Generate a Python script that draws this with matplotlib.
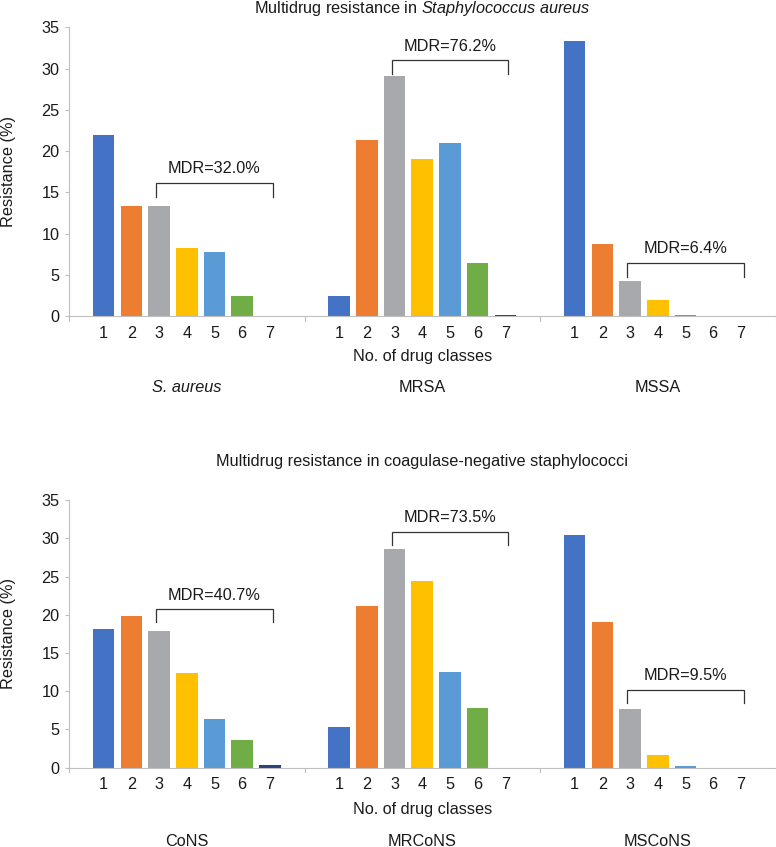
import matplotlib
matplotlib.use("Agg")
import matplotlib.pyplot as plt
import numpy as np

plt.rcParams['font.family'] = ['Liberation Sans', 'DejaVu Sans']
plt.rcParams['mathtext.fontset'] = 'custom'
plt.rcParams['mathtext.rm'] = 'Liberation Sans'
plt.rcParams['mathtext.it'] = 'Liberation Sans:italic'

drug_classes = ["1", "2", "3", "4", "5", "6", "7"]
colors = ["#4472C4", "#ED7D31", "#A8A9AD", "#FFC000", "#5B9BD5", "#70AD47", "#264478"]

top_title = "Multidrug resistance in $\\it{Staphylococcus\\ aureus}$"
top_groups = ["S. aureus", "MRSA", "MSSA"]
top_italic = [True, False, False]
saureus = [22.0, 13.3, 13.3, 8.3, 7.8, 2.4, 0.0]
mrsa = [2.4, 21.4, 29.1, 19.1, 21.0, 6.5, 0.2]
mssa = [33.3, 8.7, 4.3, 2.0, 0.1, 0.0, 0.0]
top_mdr = ["MDR=32.0%", "MDR=76.2%", "MDR=6.4%"]
top_bracket = [16.2, 31.0, 6.5]

bot_title = "Multidrug resistance in coagulase-negative staphylococci"
bot_groups = ["CoNS", "MRCoNS", "MSCoNS"]
bot_italic = [False, False, False]
cons = [18.2, 19.9, 17.9, 12.4, 6.4, 3.6, 0.3]
mrcons = [5.3, 21.1, 28.6, 24.4, 12.5, 7.8, 0.0]
mscons = [30.4, 19.0, 7.6, 1.6, 0.2, 0.0, 0.0]
bot_mdr = ["MDR=40.7%", "MDR=73.5%", "MDR=9.5%"]
bot_bracket = [20.75, 30.9, 10.2]

yticks = [0, 5, 10, 15, 20, 25, 30, 35]

W, H = 776, 847
fig = plt.figure(figsize=(W / 100, H / 100), dpi=100)

G = 8.5
PAD = 1.25
FS = 11.7
TXT = "#1a1a1a"
AX = "#BFBFBF"


def fy(px):
    return 1 - px / H


def panel(rect, series, groups, italic, mdr, brk, title, title_y, xl_y, grp_y):
    ax = fig.add_axes(rect)
    ticks_pos, ticks_lab = [], []
    for g, vals in enumerate(series):
        xs = [g * G + PAD + i for i in range(len(vals))]
        ax.bar(xs, vals, width=0.78, color=colors, edgecolor='none', zorder=2)
        ticks_pos += xs
        ticks_lab += drug_classes
        # bracket
        x0 = xs[2] - 0.1
        x1 = xs[6] + 0.1
        y = brk[g]
        ax.plot([x0, x0, x1, x1], [y - 1.7, y, y, y - 1.7], color="#333333", lw=0.9,
                solid_joinstyle='miter', zorder=3)
        ax.annotate(mdr[g], xy=((x0 + x1) / 2, y), xytext=(0, 10), textcoords='offset points',
                    ha='center', va='center', fontsize=FS, color=TXT)
    ax.set_xlim(0, 3 * G)
    ax.set_ylim(0, 35)
    ax.set_yticks(yticks)
    ax.set_yticklabels([str(t) for t in yticks], fontsize=FS, color=TXT)
    ax.set_xticks(ticks_pos)
    ax.set_xticklabels(ticks_lab, fontsize=FS, color=TXT)
    ax.tick_params(axis='x', length=0, pad=7)
    ax.tick_params(axis='y', length=3, color=AX, width=0.8, pad=4)
    # group separator ticks
    for k in range(4):
        ax.plot([k * G, k * G], [0, -0.6], color=AX, lw=0.8, clip_on=False,
                transform=ax.transData)
    for s in ['top', 'right']:
        ax.spines[s].set_visible(False)
    for s in ['left', 'bottom']:
        ax.spines[s].set_color(AX)
        ax.spines[s].set_linewidth(0.8)
    # titles and labels in figure coords
    axl, axb, axw, axh = rect
    cx = axl + axw / 2
    fig.text(9 / W, axb + axh / 2, "Resistance (%)", rotation=90, ha='center', va='center',
             fontsize=FS, color=TXT)
    fig.text(cx, fy(title_y), title, ha='center', va='center', fontsize=FS, color=TXT)
    fig.text(cx, fy(xl_y), "No. of drug classes", ha='center', va='center', fontsize=FS, color=TXT)
    for g in range(3):
        gx = axl + axw * (g * G + G / 2) / (3 * G)
        fig.text(gx, fy(grp_y), groups[g], ha='center', va='center', fontsize=FS, color=TXT,
                 style='italic' if italic[g] else 'normal')
    return ax


left = 69 / W
width = (775.5 - 69) / W
panel([left, fy(316.3), width, (316.3 - 27.3) / H], [saureus, mrsa, mssa], top_groups, top_italic,
      top_mdr, top_bracket, top_title, 8, 356.7, 387.3)
panel([left, fy(767.5), width, (767.5 - 500.3) / H], [cons, mrcons, mscons], bot_groups, bot_italic,
      bot_mdr, bot_bracket, bot_title, 461.7, 809, 841)

fig.savefig("out.png", dpi=100)
